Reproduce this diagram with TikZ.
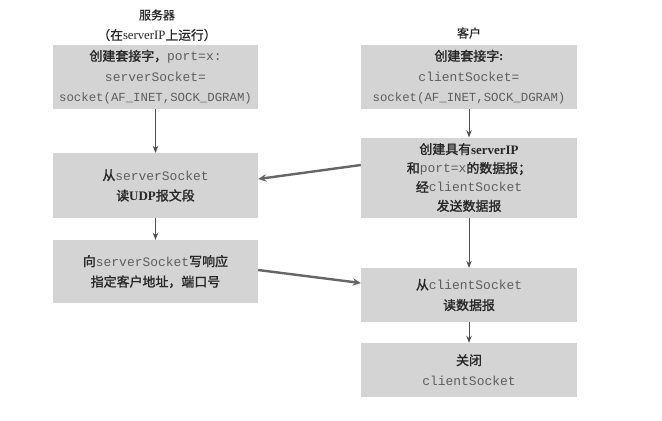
\documentclass[tikz,border=0pt]{standalone}
\usepackage{fontspec}
\setmainfont{Liberation Serif}
\newfontfamily\zhf[FakeBold=0.6]{Noto Sans CJK SC}
\newfontfamily\zhb[FakeBold=1.4]{Noto Sans CJK SC}
\newfontfamily\mnf{Liberation Mono}
\usetikzlibrary{arrows.meta}
\definecolor{boxfill}{HTML}{D4D4D4}
\definecolor{txt}{HTML}{262626}
\definecolor{monoc}{HTML}{5E5E5E}
\definecolor{arr}{HTML}{505050}
\definecolor{harr}{HTML}{666666}
\newcommand\zh[1]{{\zhb #1}}
\newcommand\zt[1]{{\zhf #1}}
\newcommand\mn[1]{{\mnf\color{monoc}#1}}
\newcommand\mnl[1]{{\mnf\fontsize{12.4}{20}\selectfont\color{monoc}#1}}
\tikzset{
  box/.style={fill=boxfill, draw=none, align=center, inner sep=0pt, text=txt,
    font=\fontsize{13}{20.5}\selectfont},
  lbox/.style={box, minimum width=205bp},
  rbox/.style={box, minimum width=216bp},
  vflow/.style={draw=arr, line width=0.9bp, -{Stealth[length=7bp,width=5.5bp]}},
  hflow/.style={draw=harr, line width=2.4bp, -{Stealth[length=8bp,width=7.5bp]}},
  title/.style={text=txt, inner sep=0pt, font=\fontsize{12}{15}\selectfont}
}
\begin{document}
\begin{tikzpicture}[x=1bp,y=-1bp]
\useasboundingbox (0,0) rectangle (662,420);
\fill[white] (0,0) rectangle (662,420);

\node[title, font=\fontsize{12}{14}\selectfont] (t1) at (157,15) {\zt{服务器}};
\node[title, font=\fontsize{12.8}{15}\selectfont] (t2) at (157,35) {\zt{（在}serverIP\zt{上运行）}};
\node[title, font=\fontsize{12}{14}\selectfont] (t3) at (469,33) {\zt{客户}};

\node[lbox, minimum height=64bp] (L1) at (155.5,77)
  {\zh{创建套接字，}\mn{port=x:}\\\mn{serverSocket=}\\\mnl{socket(AF\_INET,SOCK\_DGRAM)}};
\node[lbox, minimum height=65bp] (L2) at (155.5,185.5)
  {\zh{从}\mn{serverSocket}\\\zh{读}\textbf{UDP}\zh{报文段}};
\node[lbox, minimum height=63bp] (L3) at (155.5,271.5)
  {\zh{向}\mn{serverSocket}\zh{写响应}\\\zh{指定客户地址，端口号}};

\node[rbox, minimum height=64bp] (R1) at (469,77)
  {\zh{创建套接字}\textbf{:}\\\mn{clientSocket=}\\\mnl{socket(AF\_INET,SOCK\_DGRAM)}};
\node[rbox, minimum height=80bp, font=\fontsize{13}{19}\selectfont] (R2) at (469,177.5)
  {\zh{创建具有}\textbf{serverIP}\\\zh{和}\mn{port=x}\zh{的数据报；}\\\zh{经}\mn{clientSocket}\\\zh{发送数据报}};
\node[rbox, minimum height=54bp] (R3) at (469,295)
  {\zh{从}\mn{clientSocket}\\\zh{读数据报}};
\node[rbox, minimum height=54bp] (R4) at (469,370)
  {\zh{关闭}\\\mn{clientSocket}};

\draw[vflow] (L1) -- (L2);
\draw[vflow] (L2) -- (L3);
\draw[vflow] (R1) -- (R2);
\draw[vflow] (R2) -- (R3);
\draw[vflow] (R3) -- (R4);

\draw[hflow] ([yshift=12.5bp]R2.west) -- ([yshift=6.5bp]L2.east);
\draw[hflow] ([yshift=1.5bp]L3.east) -- ([yshift=12bp]R3.west);
\end{tikzpicture}
\end{document}
